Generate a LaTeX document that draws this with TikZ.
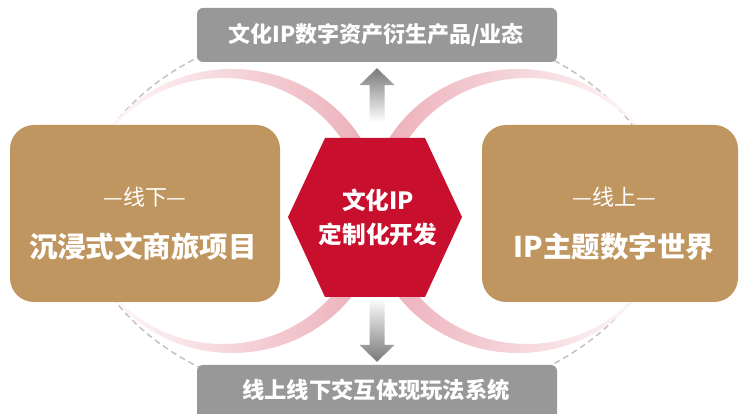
\documentclass[tikz,border=0pt]{standalone}
\usepackage{fontspec}
\setmainfont{Noto Sans CJK SC}
\usetikzlibrary{calc}
\definecolor{gold}{RGB}{192,150,96}
\definecolor{boxgray}{RGB}{152,152,152}
\definecolor{hexred}{RGB}{200,16,46}
\definecolor{pinkc}{RGB}{236,172,182}
\definecolor{dashgray}{RGB}{195,195,195}
\definecolor{arrowgray}{RGB}{120,120,120}
\begin{document}
\begin{tikzpicture}[x=1pt,y=-1pt,
  goldbox/.style={fill=gold, rounded corners=24pt, minimum width=#1, minimum height=177pt, inner sep=0pt},
  graybox/.style={fill=boxgray, rounded corners=6pt, minimum width=360pt, minimum height=#1, inner sep=0pt},
  bigtxt/.style={text=white, font=\bfseries\fontsize{28.5}{30}\selectfont, inner sep=0pt},
  smalltxt/.style={text=white, font=\fontsize{22}{24}\selectfont, inner sep=0pt},
  graytxt/.style={text=white, font=\bfseries\fontsize{#1}{24}\selectfont, inner sep=0pt},
  hextxt/.style={text=white, font=\bfseries\fontsize{23.7}{25}\selectfont, inner sep=0pt},
  crescent/.style={even odd rule}
]
\fill[white] (0,0) rectangle (740,414);
\useasboundingbox (0,0) rectangle (740,414);
\clip (0,0) rectangle (740,414);

% dashed ellipse
\draw[dashgray, line width=1.5pt, dash pattern=on 6pt off 4pt] (373,212) ellipse [x radius=290pt, y radius=194pt];

% pink crescents
\shade[crescent, left color=white, right color=pinkc]
  (232,211) ellipse [x radius=150pt, y radius=142pt]
  (223,211) ellipse [x radius=141pt, y radius=133pt];
\shade[crescent, left color=pinkc, right color=white]
  (518,211) ellipse [x radius=150pt, y radius=142pt]
  (527,211) ellipse [x radius=141pt, y radius=133pt];

% boxes
\node[graybox=54pt] (topbox) at (377,35) {};
\node[graybox=56pt] (botbox) at (377,393) {};
\node[goldbox=270pt] (leftbox) at (145,213.5) {};
\node[goldbox=256pt] (rightbox) at (610,213.5) {};

% arrows
\coordinate (ua) at (377,122);
\coordinate (ut) at ($(topbox.south)+(0,6)$);
\shade[top color=arrowgray, bottom color=white]
  ([xshift=-7.5pt]ua) -- ([xshift=-7.5pt,yshift=-17pt]ut) -- ([xshift=-17.5pt,yshift=-17pt]ut)
  -- (ut) -- ([xshift=17.5pt,yshift=-17pt]ut) -- ([xshift=7.5pt,yshift=-17pt]ut) -- ([xshift=7.5pt]ua) -- cycle;
\coordinate (da) at (377,298);
\coordinate (dt) at ($(botbox.north)+(0,-3)$);
\shade[top color=white, bottom color=arrowgray]
  ([xshift=-7.5pt]da) -- ([xshift=-7.5pt,yshift=17pt]dt) -- ([xshift=-17.5pt,yshift=17pt]dt)
  -- (dt) -- ([xshift=17.5pt,yshift=17pt]dt) -- ([xshift=7.5pt,yshift=17pt]dt) -- ([xshift=7.5pt]da) -- cycle;

% hexagon
\fill[hexred] (288,217) -- (325,138) -- (425,138) -- (462,217) -- (425,297) -- (325,297) -- cycle;
\node[hextxt] (hex1) at (378,200) {文化IP};
\node[hextxt] (hex2) at (378,234) {定制化开发};

% texts
\node[graytxt=22] (toptxt) at (376,35) {文化IP数字资产衍生产品/业态};
\node[graytxt=22.3] (bottxt) at (376,390) {线上线下交互体现玩法系统};
\node[smalltxt] (lsmall) at (145,197) {—线下—};
\node[bigtxt] (lbig) at (143,247) {沉浸式文商旅项目};
\node[smalltxt] (rsmall) at (614,197) {—线上—};
\node[bigtxt] (rbig) at (614,247) {IP主题数字世界};
\end{tikzpicture}
\end{document}
